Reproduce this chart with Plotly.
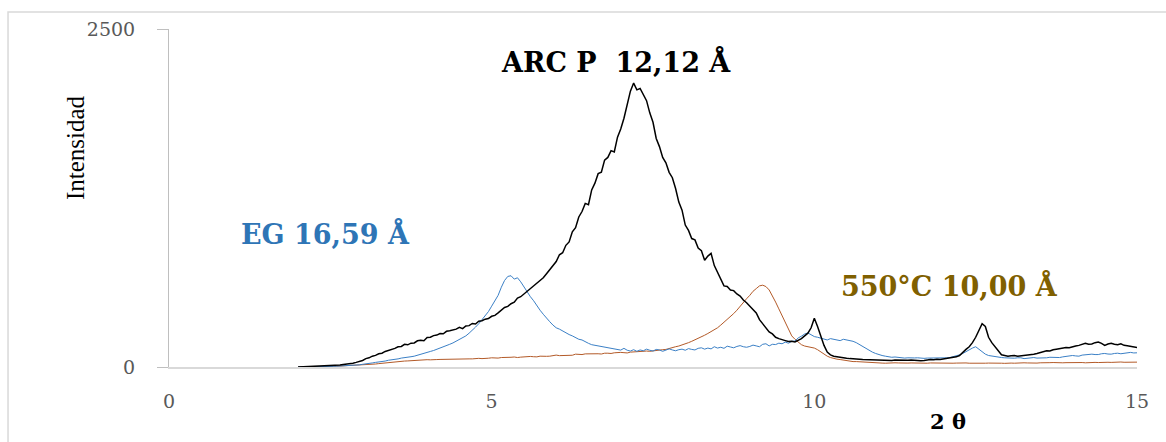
import numpy as np
import plotly.graph_objects as go

# 2-theta grid (degrees), step 0.05 from 2.0 to 15.0
two_theta = np.round(np.arange(2.0, 15.0001, 0.05), 2)

arc_p = [
    0, 1, 0, 2, 3, 2, 4, 5, 6, 5, 8, 10, 12, 14, 18, 20, 24, 28, 34, 40,
    48, 62, 68, 80, 86, 98, 102, 115, 122, 133, 138, 150, 152, 168, 164, 176, 178, 194, 198, 194,
    218, 220, 232, 236, 248, 246, 264, 268, 272, 280, 294, 284, 304, 306, 322, 318, 338, 342, 354, 358,
    375, 382, 400, 420, 440, 448, 468, 480, 510, 520, 540, 555, 575, 600, 620, 640, 660, 690, 720, 750,
    780, 830, 845, 900, 925, 1000, 1030, 1110, 1150, 1210, 1200, 1310, 1360, 1430, 1440, 1530, 1550, 1600, 1590, 1700,
    1760, 1840, 1940, 2040, 2100, 2050, 2060, 2010, 1970, 1880, 1810, 1690, 1630, 1550, 1510, 1440, 1400, 1320, 1220, 1160,
    1050, 1010, 950, 940, 880, 860, 790, 820, 840, 750, 700, 650, 600, 595, 570, 565, 540, 525, 495, 475,
    450, 430, 400, 350, 320, 290, 260, 245, 220, 210, 200, 195, 188, 190, 185, 195, 210, 230, 250, 290,
    360, 300, 225, 160, 110, 90, 80, 75, 70, 68, 65, 62, 62, 60, 58, 56, 55, 54, 52, 53,
    50, 54, 52, 49, 48, 51, 50, 47, 47, 50, 52, 49, 50, 46, 48, 52, 55, 53, 58, 56,
    60, 62, 66, 70, 75, 85, 110, 130, 150, 180, 220, 270, 320, 300, 220, 180, 150, 120, 90, 85,
    80, 84, 85, 80, 82, 88, 90, 92, 95, 100, 105, 112, 120, 118, 128, 132, 135, 140, 145, 142,
    150, 155, 160, 170, 175, 168, 170, 180, 185, 175, 160, 170, 175, 168, 165, 172, 160, 158, 155, 150,
    145,
]

eg = [
    0, 0, 0, 1, 1, 2, 2, 3, 3, 4, 4, 5, 6, 7, 8, 9, 10, 12, 14, 16,
    20, 22, 26, 30, 34, 36, 40, 44, 50, 52, 56, 60, 66, 68, 72, 76, 80, 88, 95, 100,
    108, 115, 122, 130, 140, 148, 160, 168, 178, 190, 200, 215, 230, 250, 270, 295, 320, 350, 380, 410,
    450, 490, 530, 590, 640, 670, 675, 650, 660, 630, 590, 560, 520, 490, 450, 420, 390, 360, 335, 310,
    290, 280, 265, 250, 240, 230, 215, 205, 200, 185, 175, 165, 160, 155, 150, 148, 145, 138, 135, 130,
    125, 138, 124, 118, 128, 116, 126, 120, 132, 124, 118, 130, 126, 116, 124, 134, 126, 120, 128, 132,
    124, 136, 130, 126, 138, 142, 132, 140, 134, 150, 140, 146, 138, 154, 148, 142, 152, 158, 150, 146,
    152, 162, 156, 150, 168, 172, 156, 168, 166, 176, 172, 184, 176, 190, 192, 215, 228, 244, 252, 240,
    225, 220, 215, 205, 200, 210, 205, 195, 195, 205, 200, 198, 190, 180, 165, 150, 135, 120, 110, 100,
    90, 85, 80, 75, 72, 74, 70, 68, 66, 68, 65, 67, 68, 64, 64, 66, 66, 64, 65, 67,
    66, 68, 70, 75, 80, 90, 100, 115, 130, 140, 150, 130, 110, 95, 85, 80, 75, 72, 70, 68,
    66, 64, 65, 68, 68, 62, 64, 68, 70, 66, 66, 70, 68, 72, 72, 68, 70, 75, 78, 80,
    85, 82, 80, 88, 90, 94, 95, 92, 92, 98, 100, 96, 95, 100, 102, 98, 100, 105, 108, 104,
    105,
]

c550 = [
    0, 0, 1, 1, 2, 2, 3, 3, 4, 4, 5, 5, 6, 7, 8, 9, 10, 11, 12, 14,
    15, 17, 18, 20, 22, 25, 28, 30, 32, 35, 38, 40, 42, 44, 45, 47, 48, 49, 50, 52,
    54, 53, 52, 55, 56, 57, 58, 56, 57, 59, 60, 63, 62, 60, 60, 64, 64, 62, 66, 65,
    68, 65, 66, 70, 70, 68, 72, 74, 70, 73, 76, 80, 78, 76, 75, 80, 82, 79, 80, 85,
    88, 84, 85, 90, 90, 87, 95, 92, 92, 97, 98, 95, 100, 98, 96, 102, 102, 100, 105, 108,
    108, 106, 104, 110, 112, 110, 115, 118, 118, 116, 120, 122, 125, 128, 130, 138, 145, 150, 155, 162,
    170, 180, 190, 200, 210, 222, 235, 248, 260, 275, 290, 310, 330, 350, 370, 395, 420, 450, 480, 505,
    530, 560, 580, 600, 605, 595, 570, 530, 480, 430, 380, 320, 270, 230, 205, 185, 165, 155, 150, 145,
    140, 128, 110, 95, 80, 70, 62, 58, 55, 50, 45, 42, 40, 40, 38, 36, 35, 34, 32, 33,
    30, 29, 28, 30, 32, 31, 30, 28, 27, 29, 30, 29, 28, 27, 26, 28, 30, 29, 28, 27,
    30, 28, 27, 28, 29, 31, 32, 30, 28, 27, 30, 29, 26, 28, 29, 30, 31, 29, 28, 27,
    30, 29, 28, 30, 32, 31, 30, 28, 27, 29, 31, 30, 29, 32, 33, 31, 30, 31, 32, 33,
    30, 32, 34, 33, 31, 33, 35, 34, 33, 35, 36, 35, 34, 36, 38, 37, 35, 36, 37, 38,
    36,
]

assert len(arc_p) == len(two_theta), len(arc_p)
assert len(eg) == len(two_theta), len(eg)
assert len(c550) == len(two_theta), len(c550)

x_ticks = [0, 5, 10, 15]
y_ticks = [0, 2500]

fig = go.Figure()
fig.add_trace(go.Scatter(x=two_theta, y=c550, mode="lines",
                         line=dict(color="#b35a28", width=1), name="550°C"))
fig.add_trace(go.Scatter(x=two_theta, y=eg, mode="lines",
                         line=dict(color="#3b80c6", width=1), name="EG"))
fig.add_trace(go.Scatter(x=two_theta, y=arc_p, mode="lines",
                         line=dict(color="#000000", width=1.5), name="ARC P"))

serif = "Liberation Serif"
boldserif = "DejaVu Serif"

fig.update_layout(
    width=1166, height=442,
    margin=dict(l=169, r=29, t=29, b=75),
    paper_bgcolor="white", plot_bgcolor="white",
    showlegend=False,
    xaxis=dict(range=[0, 15], tickvals=x_ticks, showgrid=False, zeroline=False,
               showline=True, linecolor="#d9d9d9", linewidth=1.5, ticks="",
               tickfont=dict(family=boldserif, size=19, color="#595959"),
               ticklabelstandoff=16),
    yaxis=dict(range=[0, 2500], tickvals=y_ticks, showgrid=False, zeroline=False,
               showline=True, linecolor="#bfbfbf", linewidth=1, ticks="outside",
               ticklen=11, tickcolor="#bfbfbf",
               tickfont=dict(family=boldserif, size=19, color="#595959"),
               ticklabelstandoff=18),
    shapes=[dict(type="rect", xref="paper", yref="paper",
                 x0=-0.1663, x1=1.06, y0=-0.35, y1=1.0503,
                 line=dict(color="#d9d9d9", width=1.5), layer="below")],
    annotations=[
        dict(text="ARC P\u00a0\u00a012,12 Å", x=6.93, y=2260, xref="x", yref="y",
             showarrow=False, font=dict(family=boldserif, size=27, color="#000000", weight="bold")),
        dict(text="EG 16,59 Å", x=2.42, y=990, xref="x", yref="y",
             showarrow=False, font=dict(family=boldserif, size=27, color="#2e75b6", weight="bold")),
        dict(text="550°C 10,00 Å", x=12.10, y=605, xref="x", yref="y",
             showarrow=False, font=dict(family=boldserif, size=27, color="#806000", weight="bold")),
        dict(text="Intensidad", x=-0.112, y=0.648, xref="paper", yref="paper",
             textangle=-90, showarrow=False,
             font=dict(family=serif, size=25, color="#000000")),
        dict(text="2 θ", x=0.825, y=-0.205, xref="paper", yref="paper",
             showarrow=False, font=dict(family=boldserif, size=21, color="#000000", weight="bold")),
    ],
)

fig.write_html("out.html")
